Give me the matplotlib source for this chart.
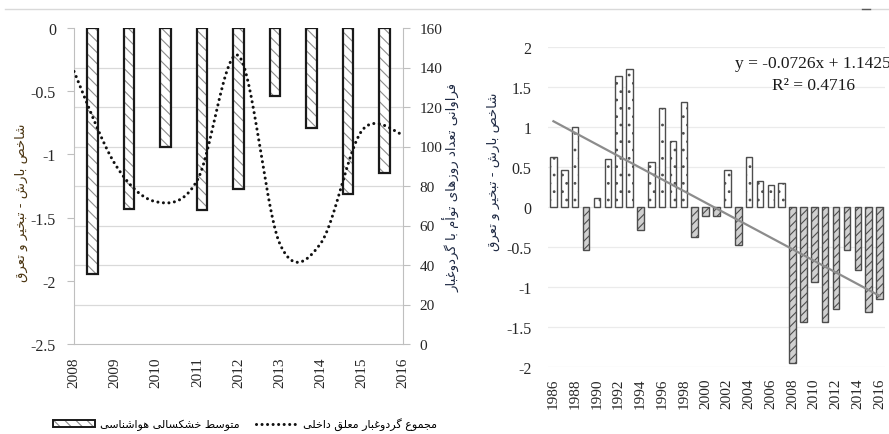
import numpy as np
import matplotlib.pyplot as plt
from matplotlib.ticker import FuncFormatter
from matplotlib.lines import Line2D
from matplotlib.patches import Patch
from matplotlib.legend_handler import HandlerTuple

# داده‌ها (خوانده شده از تصویر)
years = list(range(1986, 2017))
drought = [0.63, 0.46, 1.00, -0.54, 0.11, 0.60, 1.63, 1.72, -0.29, 0.56,
           1.24, 0.82, 1.31, -0.38, -0.11, -0.11, 0.46, -0.47, 0.63, 0.32,
           0.27, 0.30, -1.95, -1.43, -0.94, -1.44, -1.27, -0.54, -0.79, -1.31,
           -1.15]
dust_years = [2008, 2009, 2010, 2011, 2012, 2013, 2014, 2015, 2016]
dust_days = [138, 91, 72, 83, 146, 51, 51, 108, 106]
trend_slope = -0.0726
trend_icpt = 1.1425
r2 = 0.4716

txt_index = "شاخص بارش - تبخیر و تعرق"
txt_days = "فراوانی تعداد روزهای توأم با گردوغبار"
txt_drought = "متوسط خشکسالی هواشناسی"
txt_dust = "مجموع گردوغبار معلق داخلی"

# شکل‌دهی ساده حروف فارسی (matplotlib خودش اتصال حروف را انجام نمی‌دهد)
FORMS = {
    'ا': (0xFE8D, 0xFE8E, None, None), 'أ': (0xFE83, 0xFE84, None, None),
    'آ': (0xFE81, 0xFE82, None, None),
    'ب': (0xFE8F, 0xFE90, 0xFE91, 0xFE92), 'پ': (0xFB56, 0xFB57, 0xFB58, 0xFB59),
    'ت': (0xFE95, 0xFE96, 0xFE97, 0xFE98), 'ث': (0xFE99, 0xFE9A, 0xFE9B, 0xFE9C),
    'ج': (0xFE9D, 0xFE9E, 0xFE9F, 0xFEA0), 'چ': (0xFB7A, 0xFB7B, 0xFB7C, 0xFB7D),
    'ح': (0xFEA1, 0xFEA2, 0xFEA3, 0xFEA4), 'خ': (0xFEA5, 0xFEA6, 0xFEA7, 0xFEA8),
    'د': (0xFEA9, 0xFEAA, None, None), 'ذ': (0xFEAB, 0xFEAC, None, None),
    'ر': (0xFEAD, 0xFEAE, None, None), 'ز': (0xFEAF, 0xFEB0, None, None),
    'ژ': (0xFB8A, 0xFB8B, None, None),
    'س': (0xFEB1, 0xFEB2, 0xFEB3, 0xFEB4), 'ش': (0xFEB5, 0xFEB6, 0xFEB7, 0xFEB8),
    'ص': (0xFEB9, 0xFEBA, 0xFEBB, 0xFEBC), 'ض': (0xFEBD, 0xFEBE, 0xFEBF, 0xFEC0),
    'ط': (0xFEC1, 0xFEC2, 0xFEC3, 0xFEC4), 'ظ': (0xFEC5, 0xFEC6, 0xFEC7, 0xFEC8),
    'ع': (0xFEC9, 0xFECA, 0xFECB, 0xFECC), 'غ': (0xFECD, 0xFECE, 0xFECF, 0xFED0),
    'ف': (0xFED1, 0xFED2, 0xFED3, 0xFED4), 'ق': (0xFED5, 0xFED6, 0xFED7, 0xFED8),
    'ک': (0xFB8E, 0xFB8F, 0xFB90, 0xFB91), 'گ': (0xFB92, 0xFB93, 0xFB94, 0xFB95),
    'ل': (0xFEDD, 0xFEDE, 0xFEDF, 0xFEE0), 'م': (0xFEE1, 0xFEE2, 0xFEE3, 0xFEE4),
    'ن': (0xFEE5, 0xFEE6, 0xFEE7, 0xFEE8), 'و': (0xFEED, 0xFEEE, None, None),
    'ه': (0xFEE9, 0xFEEA, 0xFEEB, 0xFEEC), 'ی': (0xFBFC, 0xFBFD, 0xFBFE, 0xFBFF),
}


def fa(s):
    out = []
    for i, ch in enumerate(s):
        if ch not in FORMS:
            out.append(ch)
            continue
        prev = s[i - 1] if i > 0 else ''
        nxt = s[i + 1] if i + 1 < len(s) else ''
        join_prev = prev in FORMS and FORMS[prev][2] is not None
        join_next = FORMS[ch][2] is not None and nxt in FORMS
        iso, fin, ini, med = FORMS[ch]
        if join_prev and join_next:
            c = med
        elif join_prev:
            c = fin
        elif join_next:
            c = ini
        else:
            c = iso
        out.append(chr(c))
    return ''.join(out)[::-1]


def smooth(x, y, n=40):
    # خط نرم شبیه اکسل (Catmull-Rom)
    x = np.asarray(x, float)
    y = np.asarray(y, float)
    xp = np.concatenate([[x[0]], x, [x[-1]]])
    yp = np.concatenate([[y[0]], y, [y[-1]]])
    t = np.linspace(0, 1, n)
    h00 = 2 * t**3 - 3 * t**2 + 1
    h10 = t**3 - 2 * t**2 + t
    h01 = -2 * t**3 + 3 * t**2
    h11 = t**3 - t**2
    xs, ys = [], []
    for i in range(len(x) - 1):
        for arr, res in ((xp, xs), (yp, ys)):
            p0, p1, p2, p3 = arr[i], arr[i + 1], arr[i + 2], arr[i + 3]
            m1 = (p2 - p0) / 2
            m2 = (p3 - p1) / 2
            res.extend(h00 * p1 + h10 * m1 + h01 * p2 + h11 * m2)
    return xs, ys


plt.rcParams['font.family'] = ['Liberation Serif', 'DejaVu Sans']
plt.rcParams['hatch.linewidth'] = 0.8
plt.rcParams['axes.unicode_minus'] = False
fa_font = 'DejaVu Sans'
tick_col = '#262626'
grid_col = '#d9d9d9'
fmt = FuncFormatter(lambda v, p: '%g' % v)
dots = (0, (0.01, 1.8))

fig = plt.figure(figsize=(8.89, 4.35), dpi=100)
W, H = 889, 435


def rect(x0, y0, x1, y1):
    return [x0 / W, 1 - y1 / H, (x1 - x0) / W, (y1 - y0) / H]


# ---------------- نمودار چپ ----------------
left_vals = drought[-9:]
ax = fig.add_axes(rect(74, 29, 403, 345))
pos = np.arange(len(left_vals))
ax.bar(pos, left_vals, width=0.29, color='white', edgecolor='#8c8c8c',
       linewidth=0, hatch='\\\\\\', zorder=2)
ax.bar(pos, left_vals, width=0.29, color='none', edgecolor='#1a1a1a',
       linewidth=1.6, zorder=3)
ax.set_xlim(-0.5, 8.5)
ax.set_ylim(-2.5, 0)
ax.set_yticks([-2.5, -2, -1.5, -1, -0.5, 0])
ax.yaxis.set_major_formatter(fmt)
ax.set_yticks(np.linspace(-2.5, 0, 9), minor=True)
ax.grid(which='minor', axis='y', color=grid_col, linewidth=0.9, zorder=0)
ax.set_axisbelow(True)
ax.set_xticks([])
ax.tick_params(axis='y', which='major', direction='out', length=5,
               color='#bfbfbf', labelsize=11.5, labelcolor=tick_col, pad=8)
ax.tick_params(axis='y', which='minor', length=0)
for s in ['top', 'right']:
    ax.spines[s].set_visible(False)
for s in ['left', 'bottom']:
    ax.spines[s].set_color('#bfbfbf')

ax2 = fig.add_axes(rect(74, 29, 403, 345))
ax2.patch.set_visible(False)
sx, sy = smooth(dust_years, dust_days)
ax2.plot(sx, sy, color='#111111', linewidth=2.2, linestyle=dots,
         dash_capstyle='round', zorder=4)
ax2.set_xlim(2008, 2016)
ax2.set_ylim(0, 160)
ax2.set_xticks(dust_years)
ax2.set_xticklabels([str(y) for y in dust_years], rotation=90)
ax2.yaxis.tick_right()
ax2.set_yticks(range(0, 161, 20))
ax2.tick_params(axis='y', direction='out', length=5, color='#bfbfbf',
                labelsize=11, labelcolor=tick_col, pad=7)
ax2.tick_params(axis='x', length=0, labelsize=11, labelcolor=tick_col, pad=9)
for s in ['top', 'left', 'bottom']:
    ax2.spines[s].set_visible(False)
ax2.spines['right'].set_color('#bfbfbf')

fig.text(21 / W, 1 - 203 / H, fa(txt_index), rotation=90, ha='center',
         va='center', family=fa_font, fontsize=9.5, color='#4a3410')
fig.text(452 / W, 1 - 188 / H, fa(txt_days), rotation=90, ha='center',
         va='center', family=fa_font, fontsize=9.5, color='#1f2a44')

bar_handle = (Patch(facecolor='white', edgecolor='#8c8c8c', hatch='\\\\\\',
                    linewidth=0),
              Patch(facecolor='none', edgecolor='#1a1a1a', linewidth=1.4))
line_handle = Line2D([], [], color='#111111', linewidth=2.2,
                     linestyle=dots, dash_capstyle='round')
fig.legend([bar_handle, line_handle], [fa(txt_drought), fa(txt_dust)],
           handler_map={tuple: HandlerTuple(ndivide=1)},
           loc='center', bbox_to_anchor=(245 / W, 1 - 425 / H), ncol=2,
           frameon=False, prop={'family': fa_font, 'size': 8},
           handlelength=3.8, handleheight=0.6, columnspacing=1.4,
           handletextpad=0.5)

# ---------------- نمودار راست ----------------
axr = fig.add_axes(rect(548, 47.7, 885, 368.3))
idx = np.arange(len(years))
vals = np.array(drought)
pos_mask = vals >= 0
axr.bar(idx[pos_mask], vals[pos_mask], width=0.6, color='white',
        edgecolor='#4d4d4d', linewidth=1.0, hatch='..', zorder=2)
axr.bar(idx[~pos_mask], vals[~pos_mask], width=0.6, color='#d0d0d0',
        edgecolor='#4d4d4d', linewidth=1.0, hatch='////', zorder=2)
trend_x = np.array([idx[0], idx[-1]])
axr.plot(trend_x, trend_slope * (trend_x + 1) + trend_icpt, color='#8c8c8c',
         linewidth=1.6, zorder=3)
axr.set_xlim(-0.5, len(years) - 0.5)
axr.set_ylim(-2, 2)
axr.set_yticks(np.arange(-2, 2.01, 0.5))
axr.yaxis.set_major_formatter(fmt)
axr.grid(axis='y', color='#ebebeb', linewidth=0.9, zorder=0)
axr.set_axisbelow(True)
axr.set_xticks(idx[::2])
axr.set_xticklabels([str(y) for y in years[::2]], rotation=90)
axr.tick_params(axis='x', length=0, labelsize=11, labelcolor=tick_col, pad=7)
axr.tick_params(axis='y', length=0, labelsize=11.5, labelcolor=tick_col,
                pad=12)
for s in axr.spines.values():
    s.set_visible(False)

fig.text(735 / W, 1 - 64 / H, 'y = %.4fx + %.4f' % (trend_slope, trend_icpt),
         ha='left', va='center', fontsize=12.5, color='#1a1a1a')
fig.text(813 / W, 1 - 86 / H, 'R² = %.4f' % r2, ha='center', va='center',
         fontsize=12.5, color='#1a1a1a')
fig.text(493 / W, 1 - 172 / H, fa(txt_index), rotation=90, ha='center',
         va='center', family=fa_font, fontsize=9.5, color='#1f2a44')

# خط خاکستری بالای صفحه
fig.add_artist(Line2D([5 / W, 1], [1 - 10 / H] * 2, color='#d9d9d9',
                      linewidth=1))
fig.add_artist(Line2D([862 / W, 870 / W], [1 - 10 / H] * 2, color='#595959',
                      linewidth=1))

fig.savefig('out.png', dpi=100)
